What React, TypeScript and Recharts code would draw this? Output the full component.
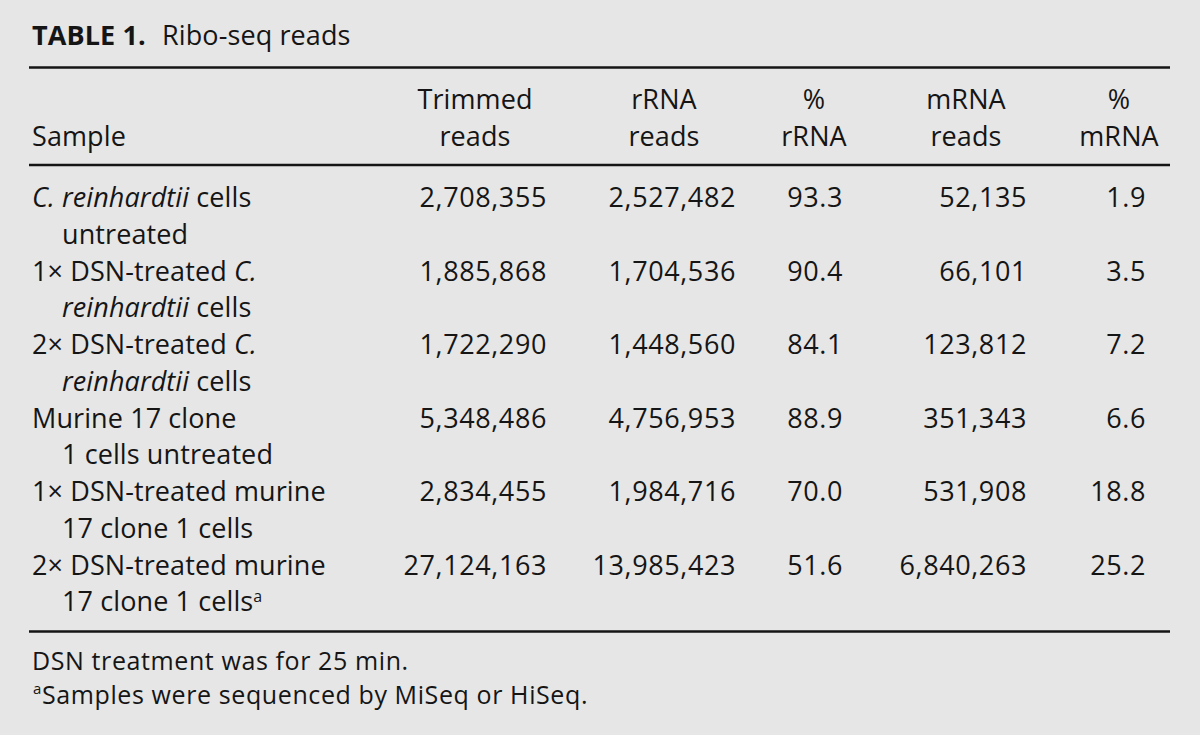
import React from 'react';
import { Customized, Scatter, ScatterChart, XAxis, YAxis } from 'recharts';

// sample names, two printed lines each; *...* is italic, ^...^ is superscript
const samples: string[][] = [
  ['*C. reinhardtii* cells', 'untreated'],
  ['1× DSN-treated *C.*', '*reinhardtii* cells'],
  ['2× DSN-treated *C.*', '*reinhardtii* cells'],
  ['Murine 17 clone', '1 cells untreated'],
  ['1× DSN-treated murine', '17 clone 1 cells'],
  ['2× DSN-treated murine', '17 clone 1 cells^a^'],
];

const trimmedReads = [2708355, 1885868, 1722290, 5348486, 2834455, 27124163];
const rrnaReads = [2527482, 1704536, 1448560, 4756953, 1984716, 13985423];
const pctRrna = [93.3, 90.4, 84.1, 88.9, 70.0, 51.6];
const mrnaReads = [52135, 66101, 123812, 351343, 531908, 6840263];
const pctMrna = [1.9, 3.5, 7.2, 6.6, 18.8, 25.2];

const sampleHeader = 'Sample';
const columnHeaders: string[][] = [
  ['Trimmed', 'reads'],
  ['rRNA', 'reads'],
  ['%', 'rRNA'],
  ['mRNA', 'reads'],
  ['%', 'mRNA'],
];

const titleBold = 'TABLE 1.';
const titleText = 'Ribo-seq reads';
const footnoteText = 'DSN treatment was for 25 min.';
const footnoteMark = 'a';
const footnoteMarkText = 'Samples were sequenced by MiSeq or HiSeq.';

const W = 1200;
const H = 735;
const FONT = '"Open Sans", sans-serif';
const FS = 27;
const LS = 0.1;
const NUM_LS = 0.6;
const INK = '#151515';
const LINE_GAP = 36.5;
const LEFT = 32;

const fmtInt = (v: number) => v.toLocaleString('en-US');
const fmtPct = (v: number) => v.toFixed(1);

// column anchors: right edge of numbers, centre of header
const columns = [
  { values: trimmedReads, fmt: fmtInt, right: 547, center: 475 },
  { values: rrnaReads, fmt: fmtInt, right: 736, center: 664 },
  { values: pctRrna, fmt: fmtPct, right: 843, center: 814 },
  { values: mrnaReads, fmt: fmtInt, right: 1027, center: 966 },
  { values: pctMrna, fmt: fmtPct, right: 1146, center: 1119 },
];

const rich = (str: string) => {
  const parts = str.split(/(\*[^*]+\*|\^[^^]+\^)/).filter((p) => p !== '');
  let raised = false;
  return parts.map((p, i) => {
    if (p.startsWith('^')) {
      raised = true;
      return (
        <tspan key={i} fontSize={16} dy={-9}>
          {p.slice(1, -1)}
        </tspan>
      );
    }
    const dy = raised ? 9 : undefined;
    raised = false;
    if (p.startsWith('*')) {
      return (
        <tspan key={i} fontStyle="italic" dy={dy}>
          {p.slice(1, -1)}
        </tspan>
      );
    }
    return (
      <tspan key={i} dy={dy}>
        {p}
      </tspan>
    );
  });
};

const sampleData = samples.map((lines, i) => ({ x: LEFT, y: i, lines }));

const SampleCell = (props: any) => {
  const { cx, cy, payload } = props;
  return (
    <g fontFamily={FONT} fontSize={FS} fill={INK} letterSpacing={LS}>
      <text x={cx} y={cy} xmlSpace="preserve">
        {rich(payload.lines[0])}
      </text>
      <text x={cx + 30} y={cy + LINE_GAP} xmlSpace="preserve">
        {rich(payload.lines[1])}
      </text>
    </g>
  );
};

const NumberCell = (props: any) => {
  const { cx, cy, payload } = props;
  return (
    <text x={cx} y={cy} textAnchor="end" fontFamily={FONT} fontSize={FS} fill={INK} letterSpacing={NUM_LS}>
      {payload.label}
    </text>
  );
};

const Frame = () => (
  <g fontFamily={FONT} fontSize={FS} fill={INK} letterSpacing={LS}>
    <text x={LEFT} y={45} fontWeight="bold">
      {titleBold}
    </text>
    <text x={162} y={45}>{titleText}</text>
    <line x1={29} x2={1170} y1={67.5} y2={67.5} stroke={INK} strokeWidth={2.5} />
    <text x={LEFT} y={146}>{sampleHeader}</text>
    {columnHeaders.map((h, i) => (
      <text key={i} x={columns[i].center} textAnchor="middle">
        <tspan x={columns[i].center} y={108.5}>{h[0]}</tspan>
        <tspan x={columns[i].center} y={145.5}>{h[1]}</tspan>
      </text>
    ))}
    <line x1={29} x2={1170} y1={165} y2={165} stroke={INK} strokeWidth={2.5} />
    <line x1={29} x2={1170} y1={631.5} y2={631.5} stroke={INK} strokeWidth={2.5} />
    <text x={LEFT} y={669.5} fontSize={25} letterSpacing={0.6}>
      {footnoteText}
    </text>
    <text x={LEFT + 1} y={694} fontSize={15}>
      {footnoteMark}
    </text>
    <text x={LEFT + 10} y={704} fontSize={25} letterSpacing={0.6}>
      {footnoteMarkText}
    </text>
  </g>
);

export default function App() {
  return (
    <div style={{ position: 'absolute', left: 0, top: 0, width: W, height: H, background: '#e6e6e6' }}>
      <ScatterChart width={W} height={H} margin={{ top: 170.25, right: 0, bottom: 123.75, left: 0 }}>
        <XAxis type="number" dataKey="x" domain={[0, W]} hide />
        <YAxis type="number" dataKey="y" domain={[-0.5, 5.5]} reversed hide width={0} />
        <Customized component={<Frame />} />
        <Scatter data={sampleData} shape={<SampleCell />} isAnimationActive={false} />
        {columns.map((c, ci) => (
          <Scatter
            key={ci}
            data={c.values.map((v, i) => ({ x: c.right, y: i, label: c.fmt(v) }))}
            shape={<NumberCell />}
            isAnimationActive={false}
          />
        ))}
      </ScatterChart>
    </div>
  );
}
